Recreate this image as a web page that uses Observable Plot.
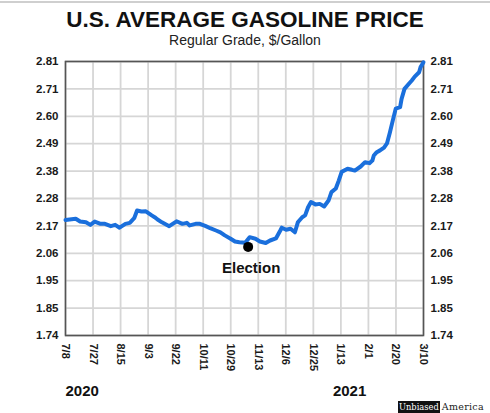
<!DOCTYPE html>
<html>
<head>
<meta charset="utf-8">
<script src="https://cdn.jsdelivr.net/npm/d3@7"></script>
<script src="https://cdn.jsdelivr.net/npm/@observablehq/plot@0.6"></script>
<style>
  body { margin: 0; background: #fff; }
  #wrap { position: relative; width: 490px; height: 413px; overflow: hidden; font-family: "Liberation Sans", Arial, sans-serif; color: #111; }
  #topline { position: absolute; left: 0; top: 1px; width: 490px; height: 0; border-top: 2px solid #cfcfcf; }
  #title { position: absolute; left: 0; width: 490px; top: 9px; text-align: center; font-size: 22.5px; font-weight: bold; line-height: 1; white-space: nowrap; }
  #sub { position: absolute; left: 0; width: 490px; top: 33px; text-align: center; font-size: 14px; line-height: 1; white-space: nowrap; color: #222; }
  #chart { position: absolute; left: 0; top: 50px; }
  #chart svg text { font-weight: bold; }
  #chart g[aria-label="x-axis tick label"] { font-size: 11px; }
  #logo { position: absolute; left: 398px; top: 398px; white-space: nowrap; font-family: "DejaVu Serif", "Liberation Serif", serif; line-height: 13px; }
  #logo .u { background: #111; color: #fff; padding: 0 1px; display: inline-block; font-size: 8.3px; }
  #logo .a { color: #222; letter-spacing: 0.3px; margin-left: 2px; font-size: 9.5px; }
</style>
</head>
<body>
<div id="wrap">
  <div id="topline"></div>
  <div id="title">U.S. AVERAGE GASOLINE PRICE</div>
  <div id="sub">Regular Grade, $/Gallon</div>
  <div id="chart"></div>
  <div id="logo"><span class="u">Unbiased</span><span class="a">America</span></div>
</div>
<script>
// ---- data ----
const dates = [
  "2020-07-08","2020-07-15","2020-07-18","2020-07-22","2020-07-25","2020-07-28",
  "2020-08-01","2020-08-04","2020-08-08","2020-08-11","2020-08-14","2020-08-18",
  "2020-08-21","2020-08-24","2020-08-26","2020-08-29","2020-09-01","2020-09-05",
  "2020-09-07","2020-09-09","2020-09-12","2020-09-17","2020-09-22","2020-09-26",
  "2020-09-29","2020-10-01","2020-10-05","2020-10-08","2020-10-12","2020-10-15",
  "2020-10-19","2020-10-22","2020-10-25","2020-10-29","2020-11-01","2020-11-04",
  "2020-11-08","2020-11-11","2020-11-15","2020-11-18","2020-11-22","2020-11-25",
  "2020-11-29","2020-12-02","2020-12-03","2020-12-06","2020-12-09","2020-12-12",
  "2020-12-14","2020-12-17","2020-12-19","2020-12-21","2020-12-23","2020-12-26",
  "2020-12-29","2021-01-01","2021-01-04","2021-01-06","2021-01-09","2021-01-11",
  "2021-01-13","2021-01-17","2021-01-20","2021-01-22","2021-01-26","2021-01-29",
  "2021-02-01","2021-02-03","2021-02-04","2021-02-06","2021-02-08","2021-02-11",
  "2021-02-13","2021-02-15","2021-02-17","2021-02-19","2021-02-22","2021-02-23",
  "2021-02-25","2021-02-28","2021-03-02","2021-03-04","2021-03-07","2021-03-08",
  "2021-03-10"
];
const prices = [
  2.191,2.196,2.185,2.182,2.172,2.185,
  2.176,2.176,2.167,2.172,2.161,2.176,
  2.180,2.198,2.228,2.224,2.225,2.209,
  2.202,2.193,2.182,2.167,2.186,2.176,
  2.180,2.170,2.176,2.176,2.167,2.159,
  2.150,2.143,2.131,2.118,2.107,2.104,
  2.102,2.124,2.118,2.107,2.101,2.111,
  2.119,2.150,2.161,2.153,2.157,2.143,
  2.182,2.202,2.209,2.241,2.261,2.252,
  2.254,2.244,2.267,2.300,2.314,2.345,
  2.379,2.391,2.387,2.384,2.400,2.417,
  2.413,2.423,2.443,2.456,2.462,2.474,
  2.490,2.533,2.580,2.626,2.632,2.664,
  2.703,2.723,2.736,2.751,2.768,2.788,
  2.807
];
const xDomain = ["2020-07-08", "2021-03-10"];
const xTickLabels = ["7/8","7/27","8/15","9/3","9/22","10/11","10/29","11/13","12/6","12/25","1/13","2/1","2/20","3/10"];
const yDomain = [1.74, 2.81];
const yTickLabels = ["1.74","1.85","1.95","2.06","2.17","2.28","2.38","2.49","2.60","2.71","2.81"];
const eventDates = ["2020-11-10"];
const eventPrices = [2.086];
const eventLabels = ["Election"];
const yearLabels = ["2020", "2021"];
const yearDates = ["2020-07-08", "2021-01-07"];

// ---- build ----
const data = dates.map((d, i) => ({date: new Date(d), price: prices[i]}));
const events = eventDates.map((d, i) => ({date: new Date(d), price: eventPrices[i], label: eventLabels[i]}));
const years = yearLabels.map((t, i) => ({date: new Date(yearDates[i]), label: t}));

const x0 = new Date(xDomain[0]), x1 = new Date(xDomain[1]);
const nX = xTickLabels.length;
const xTicks = d3.range(nX).map(i => new Date(+x0 + i * (x1 - x0) / (nX - 1)));
const xLabelMap = new Map(xTicks.map((t, i) => [+t, xTickLabels[i]]));

const nY = yTickLabels.length;
const yTicks = d3.range(nY).map(i => yDomain[0] + i * (yDomain[1] - yDomain[0]) / (nY - 1));
const yLabelOf = v => yTickLabels[Math.round((v - yDomain[0]) / ((yDomain[1] - yDomain[0]) / (nY - 1)))];

const chart = Plot.plot({
  width: 490,
  height: 363,
  marginTop: 11,
  marginBottom: 78,
  marginLeft: 65,
  marginRight: 67,
  style: {fontFamily: "'Liberation Sans', Arial, sans-serif", fontSize: "11.5px", color: "#1a1a1a", background: "transparent"},
  x: {type: "utc", domain: [x0, x1], ticks: xTicks, tickFormat: d => xLabelMap.get(+d), tickRotate: 90, tickSize: 0, tickPadding: 8, label: null},
  y: {domain: yDomain, ticks: yTicks, tickFormat: yLabelOf, tickSize: 0, tickPadding: 7, axis: "both", label: null},
  marks: [
    Plot.ruleX(xTicks, {stroke: "#d6d6d6", strokeWidth: 1.8}),
    Plot.ruleY(yTicks, {stroke: "#d6d6d6", strokeWidth: 1.8}),
    Plot.frame({stroke: "#555", strokeWidth: 1.6}),
    Plot.line(data, {x: "date", y: "price", stroke: "#1a6fdc", strokeWidth: 4, strokeLinejoin: "round", strokeLinecap: "round"}),
    Plot.dot(events, {x: "date", y: "price", r: 5, fill: "#000", stroke: "none"}),
    Plot.text(events, {x: "date", y: "price", text: "label", dx: 3, dy: 21, fontSize: 15, fill: "#111"}),
    Plot.text(years, {x: "date", text: "label", frameAnchor: "bottom", dy: 60, textAnchor: "start", fontSize: 15, fill: "#111"})
  ]
});
document.getElementById("chart").appendChild(chart);
</script>
</body>
</html>
